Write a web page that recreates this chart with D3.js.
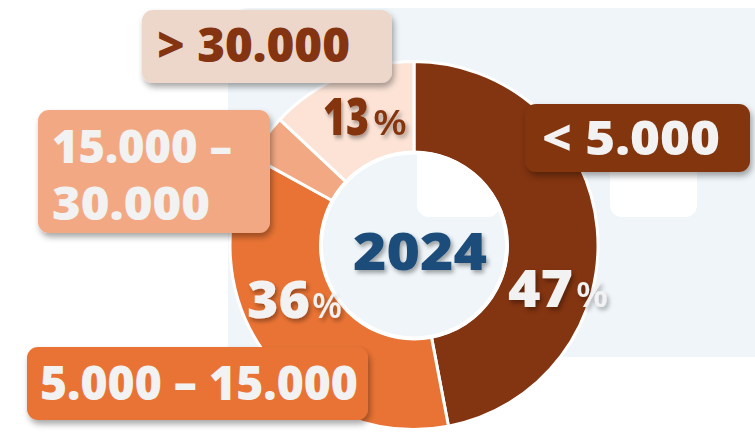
<!DOCTYPE html>
<html><head><meta charset="utf-8">
<script src="https://cdn.jsdelivr.net/npm/d3@7"></script>
<style>html,body{margin:0;padding:0;background:#fff;}svg{display:block;}</style>
</head><body>
<svg id="chart" width="755" height="433"></svg>
<script>
// ---- data ----
const categories = ["< 5.000", "5.000 – 15.000", "15.000 – 30.000", "> 30.000"];
const shares = [47, 36, 4, 13];
const pctLabels = ["47", "36", null, "13"];
const centerLabel = "2024";
const sliceColors = ["#833410", "#e97334", "#f2a983", "#fce3d6"];

// ---- layout (annotation placement) ----
const W = 755, H = 433;
const cx = 414, cy = 245.5, rOuter = 184, rInner = 93;
const boxes = [
  {x:525, y:104, w:225, h:68, fill:"#833410", color:"#f2f2f2", lines:[{t:"< 5.000", x:542, y:155, w:178}]},
  {x:27, y:347, w:341, h:73, fill:"#e97334", color:"#f2f2f2", lines:[{t:"5.000 – 15.000", x:40, y:400, w:318}]},
  {x:38, y:110, w:232, h:123, fill:"#f2a983", color:"#f2f2f2", lines:[{t:"15.000 –", x:52, y:163, w:180},{t:"30.000", x:52, y:220, w:158}]},
  {x:142, y:10, w:250, h:73, fill:"#edd6ca", color:"#843410", lines:[{t:"> 30.000", x:157, y:62, w:193}]}
];
const pctPos = [
  {x:508, y:307, w:65, px:576, pw:32, color:"#f2f2f2"},
  {x:247, y:318, w:63, px:312, pw:30, color:"#f2f2f2"},
  null,
  {x:323, y:135, w:46, px:373, pw:34, color:"#843410"}
];
const FONT = "'Open Sans', 'Noto Sans', sans-serif";

const svg = d3.select("#chart");
const defs = svg.append("defs");
const fBox = defs.append("filter").attr("id","boxShadow").attr("x","-10%").attr("y","-20%").attr("width","130%").attr("height","150%");
fBox.append("feDropShadow").attr("dx",2).attr("dy",4).attr("stdDeviation",3).attr("flood-color","#000").attr("flood-opacity",0.35);
const fTxt = defs.append("filter").attr("id","txtShadow").attr("x","-10%").attr("y","-20%").attr("width","130%").attr("height","150%");
fTxt.append("feDropShadow").attr("dx",2).attr("dy",3).attr("stdDeviation",2).attr("flood-color","#000").attr("flood-opacity",0.35);

// ---- background ----
svg.append("rect").attr("width",W).attr("height",H).attr("fill","#fff");
svg.append("path")
  .attr("d","M250,8 L775,8 L775,357 L240,357 Q228,357 228,345 L228,40 Q228,8 250,8 Z")
  .attr("fill","#eff5f9");
svg.append("rect").attr("x",417).attr("y",120).attr("width",83).attr("height",97).attr("rx",12).attr("fill","#fff");
svg.append("rect").attr("x",610).attr("y",140).attr("width",87).attr("height",77).attr("rx",12).attr("fill","#fff");

// ---- donut ----
const pie = d3.pie().sort(null).value(d => d).startAngle(0).endAngle(2*Math.PI);
const arc = d3.arc().innerRadius(rInner).outerRadius(rOuter);
const color = d3.scaleOrdinal().domain(categories).range(sliceColors);
const g = svg.append("g").attr("transform",`translate(${cx},${cy})`);
g.selectAll("path.slice").data(pie(shares)).join("path")
  .attr("class","slice")
  .attr("d",arc)
  .attr("fill",(d,i)=>color(categories[i]))
  .attr("stroke","#fff").attr("stroke-width",3).attr("stroke-linejoin","round");
g.append("circle").attr("r",rInner).attr("fill","none").attr("stroke","#fff").attr("stroke-width",4);

function fitText(sel, w){
  const n = sel.node();
  const len = n.getComputedTextLength();
  if (len > 0 && Math.abs(len - w) > 1) sel.attr("textLength", w).attr("lengthAdjust","spacingAndGlyphs");
}
// place a single-line text so that its natural width is scaled to w
function scaledText(parent, x, y, w, str, attrs){
  const gT = parent.append("g");
  const t = gT.append("text").attr("x",0).attr("y",0).text(str);
  Object.entries(attrs).forEach(([k,v])=>t.attr(k,v));
  const len = t.node().getComputedTextLength();
  const sx = len > 0 ? w/len : 1;
  gT.attr("transform",`translate(${x},${y}) scale(${sx},1)`);
  return t;
}

// centre label
scaledText(svg, 353, 270, 134, centerLabel,
  {"font-family":FONT, "font-weight":800, "font-size":52, "fill":"#1f4e7a", "filter":"url(#txtShadow)"});

// percentage labels
pctLabels.forEach((p,i)=>{
  const pos = pctPos[i];
  if (!p || !pos) return;
  scaledText(svg, pos.x, pos.y, pos.w, p,
    {"font-family":FONT, "font-weight":800, "font-size":52, "fill":pos.color, "filter":"url(#txtShadow)"});
  scaledText(svg, pos.px, pos.y, pos.pw, "%",
    {"font-family":FONT, "font-weight":600, "font-size":34, "fill":pos.color, "filter":"url(#txtShadow)"});
});

// category label boxes
boxes.forEach(b=>{
  svg.append("rect").attr("x",b.x).attr("y",b.y).attr("width",b.w).attr("height",b.h)
    .attr("rx",11).attr("fill",b.fill).attr("filter","url(#boxShadow)");
  const t = svg.append("text").attr("font-family",FONT).attr("font-weight",800)
    .attr("font-size",b.lines.length > 1 ? 46 : 47).attr("fill",b.color);
  b.lines.forEach(l=>{
    const s = t.append("tspan").attr("x",l.x).attr("y",l.y).text(l.t);
    fitText(s,l.w);
  });
});
</script>
</body></html>
